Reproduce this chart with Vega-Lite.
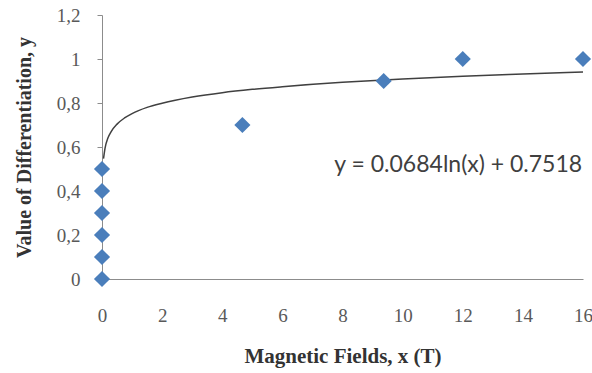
{
  "$schema": "https://vega.github.io/schema/vega-lite/v6.json",
  "width": 481,
  "height": 264,
  "autosize": {"type": "none"},
  "padding": {"left": 102, "top": 15, "right": 9, "bottom": 94},
  "background": "white",
  "config": {"view": {"stroke": null}},
  "datasets": {
    "points": [
      {"x": 0, "y": 0}, {"x": 0, "y": 0.1}, {"x": 0, "y": 0.2}, {"x": 0, "y": 0.3},
      {"x": 0, "y": 0.4}, {"x": 0, "y": 0.5}, {"x": 4.67, "y": 0.7}, {"x": 9.37, "y": 0.9},
      {"x": 12, "y": 1}, {"x": 16, "y": 1}
    ],
    "trend": [
      {"x": 0.05, "y": 0.547}, {"x": 0.1, "y": 0.594}, {"x": 0.2, "y": 0.642},
      {"x": 0.3, "y": 0.669}, {"x": 0.5, "y": 0.704}, {"x": 0.75, "y": 0.732},
      {"x": 1, "y": 0.752}, {"x": 1.5, "y": 0.780}, {"x": 2, "y": 0.799},
      {"x": 3, "y": 0.827}, {"x": 4, "y": 0.847}, {"x": 5, "y": 0.862},
      {"x": 6, "y": 0.874}, {"x": 8, "y": 0.894}, {"x": 10, "y": 0.909},
      {"x": 12, "y": 0.922}, {"x": 14, "y": 0.932}, {"x": 16, "y": 0.941}
    ],
    "label": [
      {"x": 11.85, "y": 0.518, "text": "y = 0.0684ln(x) + 0.7518"}
    ]
  },
  "encoding": {
    "x": {
      "field": "x", "type": "quantitative",
      "scale": {"domain": [0, 16], "nice": false, "zero": false},
      "axis": {
        "title": "Magnetic Fields, x (T)",
        "values": [0, 2, 4, 6, 8, 10, 12, 14, 16],
        "grid": false, "ticks": false, "labelFlush": false,
        "domainColor": "#8c8c8c",
        "labelFont": "Liberation Serif", "labelFontSize": 19, "labelColor": "#595959",
        "labelPadding": 27,
        "titleFont": "Liberation Serif", "titleFontSize": 21, "titleFontWeight": "bold",
        "titleColor": "#333333", "titlePadding": 20
      }
    },
    "y": {
      "field": "y", "type": "quantitative",
      "scale": {"domain": [0, 1.2], "nice": false},
      "axis": {
        "title": "Value of Differentiation, y",
        "values": [0, 0.2, 0.4, 0.6, 0.8, 1, 1.2],
        "labelExpr": "replace(format(datum.value, '.1~f'), '.', ',')",
        "grid": false, "tickSize": 5, "tickColor": "#8c8c8c",
        "domainColor": "#8c8c8c", "labelFlush": false,
        "labelFont": "Liberation Serif", "labelFontSize": 19, "labelColor": "#595959",
        "labelPadding": 17,
        "titleFont": "Liberation Serif", "titleFontSize": 20, "titleFontWeight": "bold",
        "titleColor": "#333333", "titlePadding": 22
      }
    }
  },
  "layer": [
    {
      "data": {"name": "trend"},
      "mark": {"type": "line", "color": "#404040", "strokeWidth": 1.5, "interpolate": "monotone"}
    },
    {
      "data": {"name": "points"},
      "mark": {"type": "point", "shape": "diamond", "filled": true, "size": 260, "color": "#4A7EBB", "opacity": 1}
    },
    {
      "data": {"name": "label"},
      "mark": {"type": "text", "font": "Lato", "fontSize": 23, "color": "#404040", "align": "center", "baseline": "middle"},
      "encoding": {"text": {"field": "text"}}
    }
  ]
}
